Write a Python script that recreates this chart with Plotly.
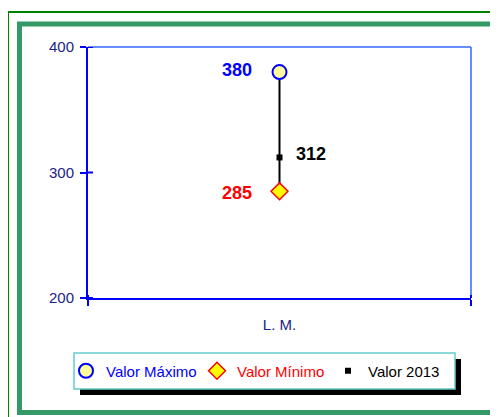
import plotly.graph_objects as go

categories = ["L. M."]
valor_maximo = [380]
valor_minimo = [285]
valor_2013 = [312]
y_ticks = [200, 300, 400]

# page is offset by the default 8px body margin
OFF = 8
W, H = 498 - OFF, 417 - OFF
L, R, T, B = 88, 471, 47, 298  # plot area in page pixels


def px(x):
    return (x - L) / (R - L)


def py(y):
    return (B - y) / (B - T)


FONT = "Liberation Sans, Arial, sans-serif"

fig = go.Figure()

fig.add_trace(go.Scatter(
    x=[categories[0], categories[0]], y=[valor_maximo[0], valor_minimo[0]],
    mode="lines", line=dict(color="black", width=2), showlegend=False, hoverinfo="skip"))

fig.add_trace(go.Scatter(
    x=categories, y=valor_maximo, mode="markers",
    name="<span style='color:#0000FF'>Valor Máximo</span>",
    marker=dict(symbol="circle", size=14, color="#FFFF99", line=dict(color="#0000FF", width=2))))

fig.add_trace(go.Scatter(
    x=categories, y=valor_minimo, mode="markers",
    name="<span style='color:#FF0000'>Valor Mínimo</span>",
    marker=dict(symbol="diamond", size=13, color="#FFFF00", line=dict(color="#FF0000", width=1.5))))

fig.add_trace(go.Scatter(
    x=categories, y=valor_2013, mode="markers",
    name="<span style='color:#000000'>Valor 2013</span>",
    marker=dict(symbol="square", size=6, color="black", line=dict(width=0))))

annotations = [
    dict(x=categories[0], y=valor_maximo[0], text="<b>%d</b>" % valor_maximo[0],
         xanchor="right", yanchor="middle", xshift=-26, yshift=2, showarrow=False,
         font=dict(family=FONT, size=18, color="#0000FF")),
    dict(x=categories[0], y=valor_minimo[0], text="<b>%d</b>" % valor_minimo[0],
         xanchor="right", yanchor="middle", xshift=-26, yshift=-2, showarrow=False,
         font=dict(family=FONT, size=18, color="#FF0000")),
    dict(x=categories[0], y=valor_2013[0], text="<b>%d</b>" % valor_2013[0],
         xanchor="left", yanchor="middle", xshift=14, yshift=3, showarrow=False,
         font=dict(family=FONT, size=18, color="#000000")),
]

shapes = [
    dict(type="rect", xref="paper", yref="paper", x0=px(8), x1=px(510), y0=py(12), y1=py(430),
         line=dict(color="#008000", width=2), layer="below"),
    dict(type="rect", xref="paper", yref="paper", x0=px(19.5), x1=px(496), y0=py(24), y1=py(412.5),
         line=dict(color="#339966", width=5), layer="below"),
    dict(type="line", xref="paper", yref="paper", x0=0, x1=1, y0=1, y1=1,
         line=dict(color="#3366FF", width=1.5)),
    dict(type="line", xref="paper", yref="paper", x0=1, x1=1, y0=0, y1=1,
         line=dict(color="#3366FF", width=1.5)),
    # legend shadow and box
    dict(type="rect", xref="paper", yref="paper", x0=px(80), x1=px(461), y0=py(359), y1=py(395),
         fillcolor="black", line=dict(width=0), layer="above"),
    dict(type="rect", xref="paper", yref="paper", x0=px(74), x1=px(455), y0=py(353), y1=py(389),
         fillcolor="white", line=dict(color="#66CCCC", width=1.5), layer="above"),
]
for t in y_ticks:
    shapes.append(dict(type="line", xref="paper", yref="y", x0=0, x1=px(L + 5), y0=t, y1=t,
                       line=dict(color="#0000FF", width=2)))
for xb in (0, 1):
    shapes.append(dict(type="line", xref="paper", yref="paper", x0=xb, x1=xb, y0=0, y1=py(B - 3),
                       line=dict(color="#0000FF", width=2)))

fig.update_layout(
    width=W, height=H,
    margin=dict(l=L - OFF, r=498 - R, t=T - OFF, b=417 - B, pad=0),
    paper_bgcolor="white", plot_bgcolor="white",
    font=dict(family=FONT, size=15, color="#222288"),
    showlegend=True,
    legend=dict(orientation="h", x=px(66), y=py(371), xanchor="left", yanchor="middle",
                bgcolor="rgba(0,0,0,0)", borderwidth=0,
                font=dict(family=FONT, size=15, color="black"),
                itemwidth=30, entrywidth=86),
    xaxis=dict(type="category", range=[-0.5, 0.5], tickson="boundaries",
               showline=True, linecolor="#0000FF", linewidth=2,
               ticks="outside", ticklen=6, tickcolor="#0000FF", tickwidth=2,
               showgrid=False, zeroline=False, ticklabelstandoff=12,
               tickfont=dict(family=FONT, size=15, color="#222288"), fixedrange=True),
    yaxis=dict(range=[200, 400], tickvals=y_ticks, showline=True, linecolor="#0000FF", linewidth=2,
               ticks="outside", ticklen=6, tickcolor="#0000FF", tickwidth=2,
               showgrid=False, zeroline=False, ticklabelstandoff=3,
               tickfont=dict(family=FONT, size=15, color="#222288"), fixedrange=True),
    annotations=annotations,
    shapes=shapes,
)

fig.write_html("out.html")
